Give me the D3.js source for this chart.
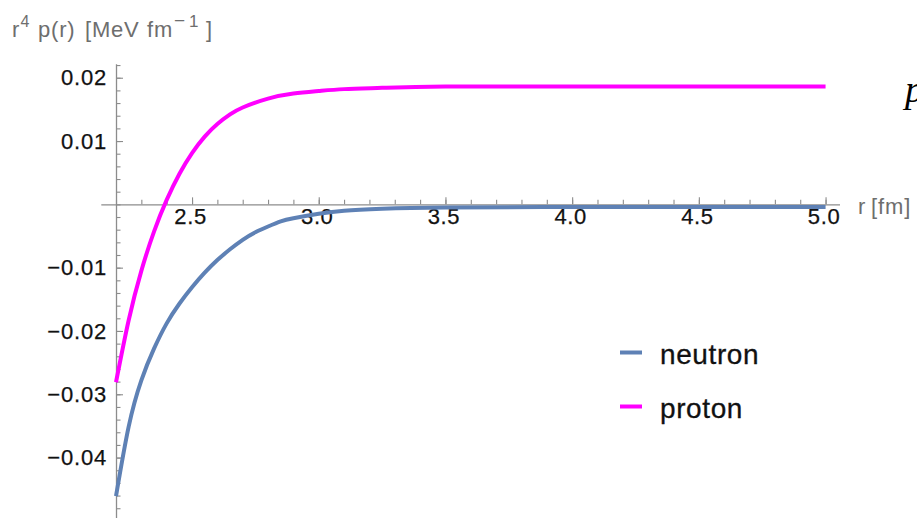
<!DOCTYPE html>
<html>
<head>
<meta charset="utf-8">
<script src="https://cdn.jsdelivr.net/npm/d3@7"></script>
<style>
  html, body { margin: 0; padding: 0; background: #fff; }
  svg { display: block; }
  .tick text { font-family: "Liberation Sans", Arial, sans-serif; }
</style>
</head>
<body>
<svg id="chart" width="917" height="518"></svg>
<script>
// radius r [fm]
const neutronR = [2.2, 2.25, 2.3, 2.35, 2.4, 2.45, 2.5, 2.55, 2.6, 2.65, 2.7, 2.75, 2.8, 2.85, 2.9, 3.0, 3.1, 3.25, 3.5, 4.0, 4.5, 5.0];
// r^4 p(r) [MeV fm^-1]
const neutronP = [-0.0461, -0.0351, -0.0278, -0.0228, -0.0188, -0.0157, -0.0131, -0.0108, -0.0088, -0.0071, -0.0056, -0.0044, -0.0035, -0.0027, -0.0022, -0.0015, -0.0010, -0.0007, -0.0005, -0.00042, -0.0004, -0.0004];

const protonR = [2.2, 2.25, 2.3, 2.35, 2.4, 2.45, 2.5, 2.55, 2.6, 2.65, 2.7, 2.8, 2.9, 3.0, 3.1, 3.25, 3.5, 4.0, 4.5, 5.0];
const protonP = [-0.0281, -0.0183, -0.0105, -0.0043, 0.0007, 0.0048, 0.0081, 0.0107, 0.0127, 0.0142, 0.0153, 0.0167, 0.0175, 0.0179, 0.0182, 0.0184, 0.0186, 0.0186, 0.0186, 0.0186];

const seriesNames = ["neutron", "proton"];
const seriesColors = ["#5E81B5", "#FF00FF"];

const xMajorTicks = [2.5, 3.0, 3.5, 4.0, 4.5, 5.0];
const yMajorTicks = [-0.04, -0.03, -0.02, -0.01, 0.01, 0.02];

const svg = d3.select("#chart");
const FONT = '"Liberation Sans", Arial, Helvetica, sans-serif';

// scales: axes cross at r = 2.2, value 0
const x = d3.scaleLinear().domain([2.14, 5.055]).range([100.8, 839.5]);
const y = d3.scaleLinear().domain([-0.0497, 0.0222]).range([519, 63.8]);

const axisColor = "#8c8c8c";

// x axis (ticks point up, labels below)
const xMinor = d3.range(22, 51).map(d => d / 10);
const gx = svg.append("g").attr("transform", `translate(0,${y(0)})`);
gx.append("g")
  .call(d3.axisBottom(x).tickValues(xMinor).tickSizeInner(-4.5).tickSizeOuter(0).tickFormat(""))
  .call(g => g.select(".domain").attr("stroke", axisColor).attr("stroke-width", 1.3))
  .call(g => g.selectAll(".tick line").attr("stroke", axisColor).attr("stroke-width", 1.1));
gx.append("g")
  .call(d3.axisBottom(x).tickValues(xMajorTicks).tickSizeInner(-7).tickSizeOuter(0).tickPadding(15).tickFormat(d3.format(".1f")))
  .call(g => g.select(".domain").remove())
  .call(g => g.selectAll(".tick line").attr("stroke", axisColor).attr("stroke-width", 1.1))
  .call(g => g.selectAll(".tick text")
    .attr("fill", "#111").attr("font-size", 22).attr("letter-spacing", "0.6px")
    .attr("stroke", "#111").attr("stroke-width", 0.25)
    .attr("dx", "-2px").attr("dy", "0.2em"));

// y axis (ticks point right, labels left)
const yMinor = d3.range(-48, 23, 2).map(d => d / 1000);
const gy = svg.append("g").attr("transform", `translate(${x(2.2)},0)`);
gy.append("g")
  .call(d3.axisLeft(y).tickValues(yMinor).tickSizeInner(-4.5).tickSizeOuter(0).tickFormat(""))
  .call(g => g.select(".domain").attr("stroke", axisColor).attr("stroke-width", 1.3))
  .call(g => g.selectAll(".tick line").attr("stroke", axisColor).attr("stroke-width", 1.1));
gy.append("g")
  .call(d3.axisLeft(y).tickValues(yMajorTicks).tickSizeInner(-7).tickSizeOuter(0).tickPadding(9).tickFormat(d3.format(".2f")))
  .call(g => g.select(".domain").remove())
  .call(g => g.selectAll(".tick line").attr("stroke", axisColor).attr("stroke-width", 1.1))
  .call(g => g.selectAll(".tick text")
    .attr("fill", "#111").attr("font-size", 22).attr("letter-spacing", "0.8px")
    .attr("stroke", "#111").attr("stroke-width", 0.25));

// curves
const line = d3.line().x(d => x(d[0])).y(d => y(d[1])).curve(d3.curveNatural);
const series = [
  d3.zip(neutronR, neutronP),
  d3.zip(protonR, protonP)
];
svg.append("g").selectAll("path")
  .data(series)
  .join("path")
  .attr("d", line)
  .attr("fill", "none")
  .attr("stroke", (d, i) => seriesColors[i])
  .attr("stroke-width", 4)
  .attr("stroke-linejoin", "round");

// y axis title: r^4 p(r) [MeV fm^-1]
const titleParts = [
  { s: "r", x: 12, y: 37, f: 22 },
  { s: "4", x: 20.5, y: 27, f: 16 },
  { s: "p(r)", x: 38, y: 37, f: 22 },
  { s: "[MeV", x: 85, y: 37, f: 22 },
  { s: "fm", x: 147, y: 37, f: 22 },
  { s: "\u2212", x: 174, y: 27, f: 19 },
  { s: "1", x: 189, y: 27, f: 17 },
  { s: "]", x: 206, y: 37, f: 22 }
];
svg.append("text")
  .attr("font-family", FONT).attr("fill", "#6e6e6e")
  .selectAll("tspan").data(titleParts).join("tspan")
  .attr("x", d => d.x).attr("y", d => d.y).attr("font-size", d => d.f)
  .attr("letter-spacing", "0.8px")
  .text(d => d.s);

// x axis title: r [fm]
svg.append("text")
  .attr("font-family", FONT).attr("font-size", 22).attr("fill", "#6e6e6e")
  .selectAll("tspan").data([{ s: "r", x: 858 }, { s: "[fm]", x: 871 }]).join("tspan")
  .attr("x", d => d.x).attr("y", 214).attr("letter-spacing", "0.9px")
  .text(d => d.s);

// legend
const legend = svg.append("g");
const legendY = [352.5, 406.5];
seriesNames.forEach((name, i) => {
  legend.append("line")
    .attr("x1", 620).attr("x2", 642)
    .attr("y1", legendY[i]).attr("y2", legendY[i])
    .attr("stroke", seriesColors[i]).attr("stroke-width", 4);
  legend.append("text")
    .attr("x", 660).attr("y", legendY[i] + 11.5)
    .attr("font-family", FONT).attr("font-size", 28)
    .attr("letter-spacing", "0.6px")
    .attr("fill", "#111").attr("stroke", "#111").attr("stroke-width", 0.3)
    .text(name);
});

// italic glyph at the right edge
svg.append("text")
  .attr("x", 905).attr("y", 102)
  .attr("font-family", '"Liberation Serif", "Times New Roman", serif')
  .attr("font-style", "italic").attr("font-size", 38).attr("fill", "#000")
  .text("p");
</script>
</body>
</html>
